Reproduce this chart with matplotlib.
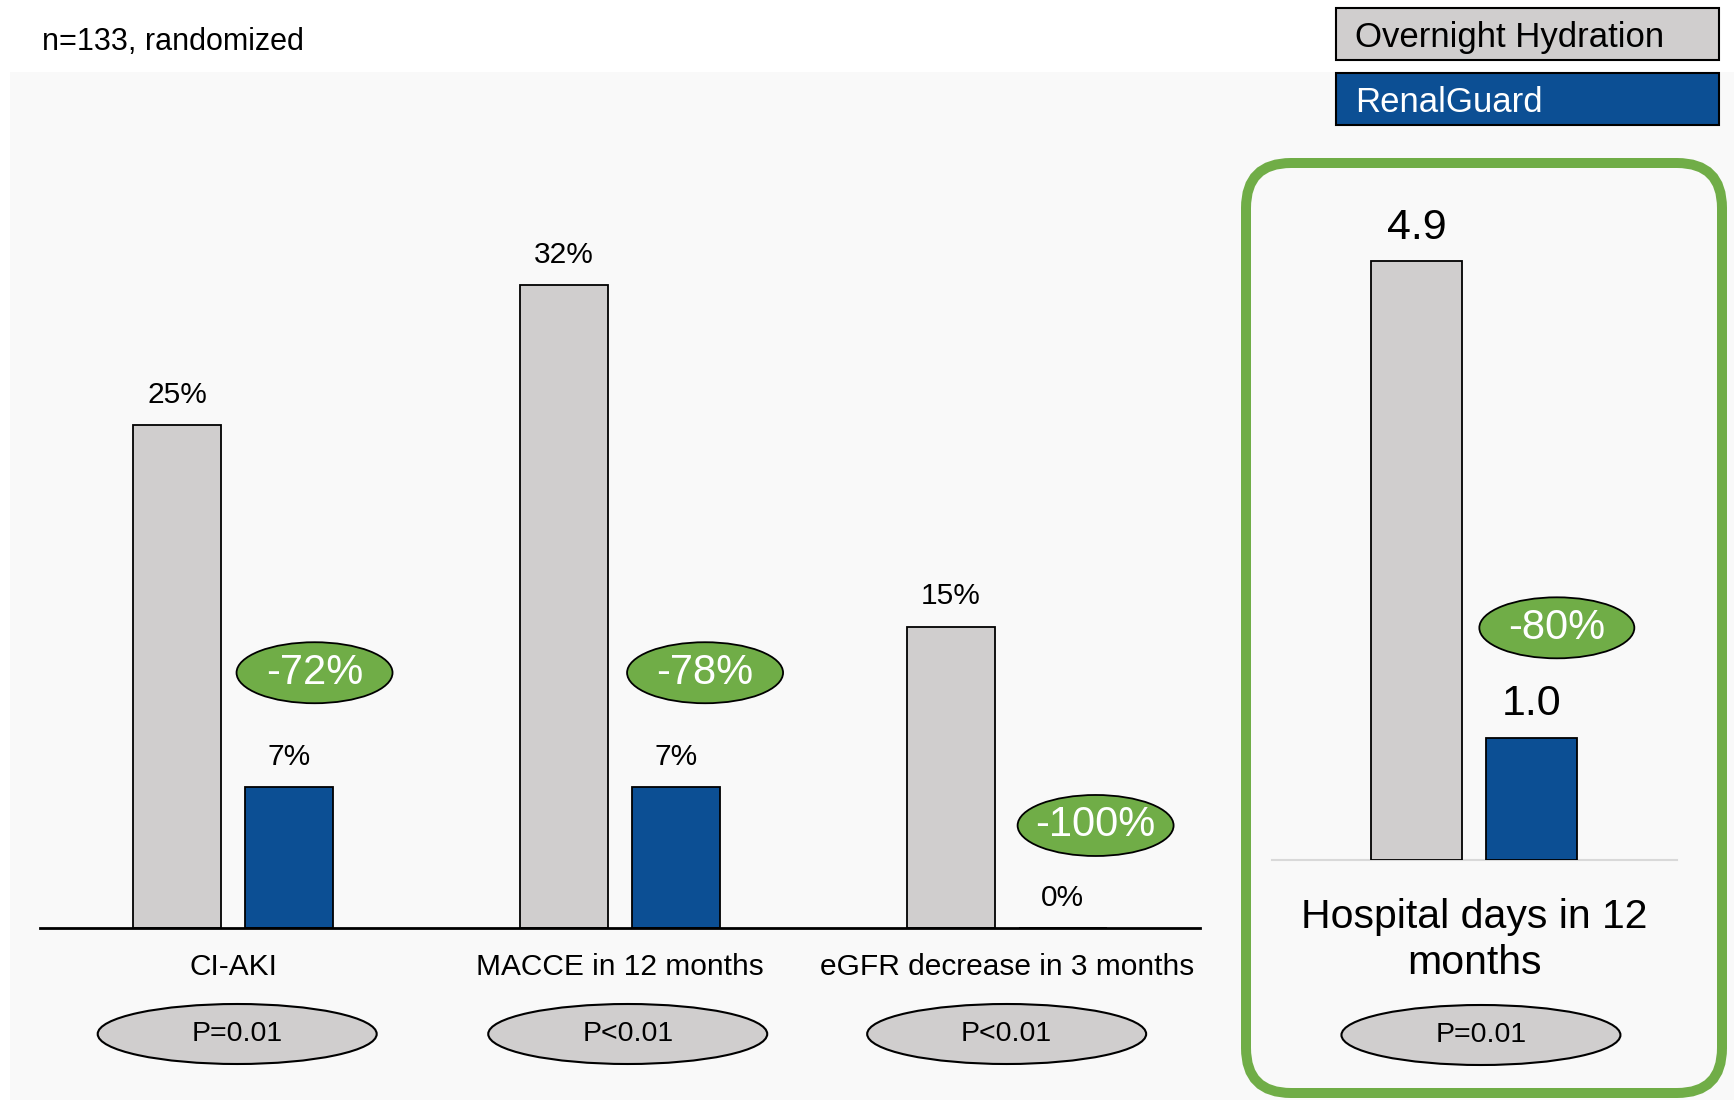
import numpy as np
import matplotlib.pyplot as plt
from matplotlib.patches import Ellipse, Rectangle, FancyBboxPatch

plt.rcParams['font.family'] = ['Liberation Sans', 'DejaVu Sans']

# --- data ---
categories = ['CI-AKI', 'MACCE in 12 months', 'eGFR decrease in 3 months']
overnight = [25, 32, 15]
renalguard = [7, 7, 0]
reductions = ['-72%', '-78%', '-100%']
p_values = ['P=0.01', 'P<0.01', 'P<0.01']

hosp_label = 'Hospital days in 12\nmonths'
hosp_days = [4.9, 1.0]
hosp_reduction = '-80%'
hosp_p = 'P=0.01'

legend_labels = ['Overnight Hydration', 'RenalGuard']

GRAY = '#d0cece'
BLUE = '#0c4f94'
GREEN = '#70ad47'
W, H = 1734, 1104


def fx(px):
    return px / W


def fy(py):
    return 1 - py / H


fig = plt.figure(figsize=(W / 100, H / 100), dpi=100)

# light background panel
fig.add_artist(Rectangle((fx(10), fy(1100)), fx(1734) - fx(10), fy(72) - fy(1100),
                         transform=fig.transFigure, facecolor='#f9f9f9',
                         edgecolor='none', zorder=-5))

fig.text(fx(42), fy(42), 'n=133, randomized', fontsize=22, va='center')

# legend boxes
leg_colors = [GRAY, BLUE]
leg_text_colors = ['black', 'white']
leg_tops = [8, 73]
for lab, c, tc, top in zip(legend_labels, leg_colors, leg_text_colors, leg_tops):
    fig.add_artist(Rectangle((fx(1336), fy(top + 52)), fx(1719) - fx(1336), fy(top) - fy(top + 52),
                             transform=fig.transFigure, facecolor=c, edgecolor='black',
                             linewidth=1.5, zorder=2))
    fig.text(fx(1355), fy(top + 30), lab, color=tc, fontsize=25, va='center', zorder=3)

# --- left chart: three outcomes ---
ppu = 20.1  # pixels per percent
ax = fig.add_axes([fx(40), fy(928), fx(1200) - fx(40), fy(72) - fy(928)])
ax.patch.set_alpha(0)
ax.set_xlim(-0.5, 2.5)
ax.set_ylim(0, (928 - 72) / ppu)
ax.axis('off')

x = np.arange(len(categories))
bw = 0.228
off = 0.145
ax.bar(x - off, overnight, bw, color=GRAY, edgecolor='black', linewidth=1.3, zorder=2)
ax.bar(x + off, renalguard, bw, color=BLUE, edgecolor='black', linewidth=1.3, zorder=2)
ax.axhline(0, color='black', linewidth=2, zorder=3, clip_on=False)

for xi, v in zip(x - off, overnight):
    ax.annotate(f'{v}%', (xi, v), xytext=(0, 21.6), textcoords='offset points',
                ha='center', va='center', fontsize=21.5)
for xi, v in zip(x + off, renalguard):
    ax.annotate(f'{v}%', (xi, v), xytext=(0, 21.6), textcoords='offset points',
                ha='center', va='center', fontsize=21.5)

ux = 386.7  # pixels per group unit
badge_lift = [5.7, 5.7, 5.1]
badge_dx = [0.21, 0.22, 0.23]
p_dx = [0.01, 0.02, 0.0]
for i, (xi, cat, p, red, rg) in enumerate(zip(x, categories, p_values, reductions, renalguard)):
    ax.text(xi, -39 / ppu, cat, ha='center', va='center', fontsize=21.5)
    px = xi + p_dx[i]
    ax.add_patch(Ellipse((px, -106 / ppu), 279 / ux, 60 / ppu, facecolor=GRAY,
                         edgecolor='black', linewidth=1.5, clip_on=False, zorder=4))
    ax.text(px, -106 / ppu, p, ha='center', va='center', fontsize=20.5, zorder=5)
    gx = xi + badge_dx[i]
    gy = rg + badge_lift[i]
    ax.add_patch(Ellipse((gx, gy), 156 / ux, 61 / ppu, facecolor=GREEN,
                         edgecolor='black', linewidth=1.3, zorder=4))
    ax.text(gx, gy, red, ha='center', va='center', fontsize=30,
            color='white', zorder=5)

# --- right chart: hospital days ---
ppd = 122.2  # pixels per day
ux2 = 115.0
ax2 = fig.add_axes([fx(1272), fy(860), fx(1677) - fx(1272), fy(158) - fy(860)])
ax2.patch.set_alpha(0)
ax2.set_xlim(-1.257, 2.265)
ax2.set_ylim(0, (860 - 158) / ppd)
ax2.axis('off')

ax2.bar([0, 1], hosp_days, 0.79, color=[GRAY, BLUE], edgecolor='black', linewidth=1.3, zorder=2)
ax2.axhline(0, color='#d9d9d9', linewidth=1.5, zorder=1, clip_on=False)
for xi, v in zip([0, 1], hosp_days):
    ax2.annotate(f'{v:.1f}', (xi, v), xytext=(0, 24), textcoords='offset points',
                 ha='center', va='center', fontsize=31)

gy2 = hosp_days[1] + 0.9
ax2.add_patch(Ellipse((1.22, gy2), 155 / ux2, 61 / ppd, facecolor=GREEN,
                      edgecolor='black', linewidth=1.3, zorder=4))
ax2.text(1.22, gy2, hosp_reduction, ha='center', va='center', fontsize=30,
         color='white', zorder=5)
ax2.text(0.5, -80 / ppd, hosp_label, ha='center', va='center', fontsize=29.5,
         linespacing=1.25)
ax2.add_patch(Ellipse((0.56, -175 / ppd), 279 / ux2, 60 / ppd, facecolor=GRAY,
                      edgecolor='black', linewidth=1.5, clip_on=False, zorder=4))
ax2.text(0.56, -175 / ppd, hosp_p, ha='center', va='center', fontsize=20.5, zorder=5)

# green rounded frame round the hospital-days panel
fig.add_artist(FancyBboxPatch((12.46, 0.11), 4.76, 9.30,
                              boxstyle='round,pad=0,rounding_size=0.45',
                              transform=fig.dpi_scale_trans, facecolor='none',
                              edgecolor=GREEN, linewidth=7.2, zorder=6))

fig.savefig('out.png', dpi=100)
